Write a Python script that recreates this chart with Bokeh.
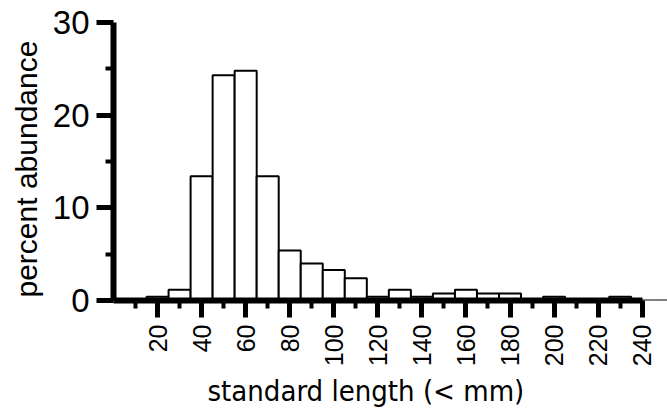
import math
from bokeh.plotting import figure
from bokeh.models import FixedTicker, Range1d, Title
from bokeh.embed import file_html
from bokeh.resources import INLINE

# bin centres (mm) and percent abundance per 10 mm bin
bin_centers = [10, 20, 30, 40, 50, 60, 70, 80, 90, 100, 110, 120, 130,
               140, 150, 160, 170, 180, 190, 200, 210, 220, 230, 240, 250, 260]
percent = [0.0, 0.4, 1.15, 13.4, 24.3, 24.8, 13.4, 5.4, 4.0, 3.3, 2.4, 0.4, 1.15,
           0.4, 0.75, 1.15, 0.75, 0.75, 0.0, 0.4, 0.0, 0.0, 0.4, 0.0, 0.0, 0.0]

x_major_ticks = [20, 40, 60, 80, 100, 120, 140, 160, 180, 200, 220, 240]
x_minor_ticks = [10, 30, 50, 70, 90, 110, 130, 150, 170, 190, 210, 230]
y_major_ticks = [0, 10, 20, 30]
y_minor_ticks = [5, 15, 25]

x_label = "standard length (< mm)"
y_label = "percent abundance"

p = figure(width=667, height=412, output_backend="svg", toolbar_location=None,
           x_range=Range1d(0, 251.5), y_range=Range1d(0, 30),
           min_border_left=113, min_border_right=0,
           min_border_top=22, min_border_bottom=112)

p.vbar(x=bin_centers, top=percent, bottom=0, width=10,
       fill_color="white", line_color="black", line_width=2)

p.grid.visible = False
p.outline_line_color = None

# x axis
xa = p.xaxis[0]
xa.ticker = FixedTicker(ticks=x_major_ticks, minor_ticks=x_minor_ticks)
xa.bounds = (0, 240)
xa.major_label_orientation = math.pi / 2
xa.axis_line_width = 6
xa.major_tick_line_width = 5
xa.minor_tick_line_width = 4
xa.major_tick_out = 17
xa.major_tick_in = 0
xa.minor_tick_out = 8
xa.minor_tick_in = 0
xa.major_label_standoff = 7
xa.major_label_text_font = "Liberation Sans"
xa.major_label_text_font_size = "25px"
xa.major_label_text_color = "black"

# y axis
ya = p.yaxis[0]
ya.ticker = FixedTicker(ticks=y_major_ticks, minor_ticks=y_minor_ticks)
ya.bounds = (0, 30)
ya.axis_line_width = 6
ya.major_tick_line_width = 5
ya.minor_tick_line_width = 4
ya.major_tick_out = 17
ya.major_tick_in = 0
ya.minor_tick_out = 8
ya.minor_tick_in = 0
ya.major_label_standoff = 7
ya.major_label_text_font = "Liberation Sans"
ya.major_label_text_font_size = "33px"
ya.major_label_text_color = "black"

p.add_layout(Title(text=y_label, align="left", offset=3, standoff=14,
                   text_font="Liberation Sans", text_font_size="30px",
                   text_font_style="normal", text_color="black"), "left")

p.add_layout(Title(text=x_label, align="left", offset=94, standoff=4,
                   text_font="DejaVu Sans Condensed", text_font_size="29px",
                   text_font_style="normal", text_color="black"), "below")

open("out.html", "w").write(file_html(p, INLINE))
